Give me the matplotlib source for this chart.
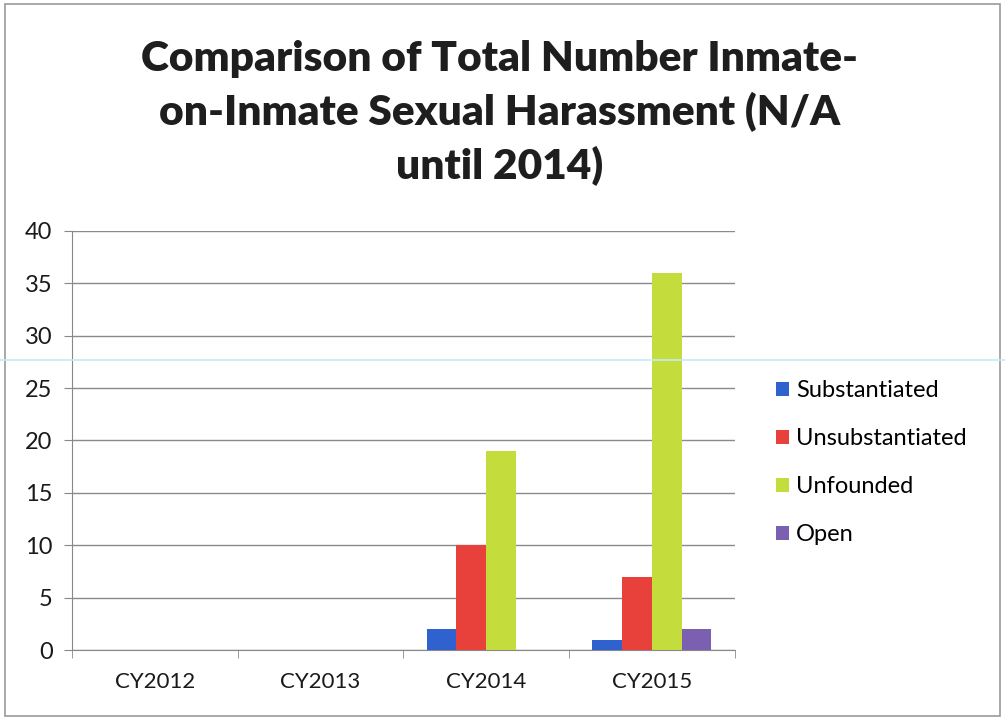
import matplotlib.pyplot as plt
import numpy as np
from matplotlib.patches import Rectangle
from matplotlib.lines import Line2D

years = ['CY2012', 'CY2013', 'CY2014', 'CY2015']
series = ['Substantiated', 'Unsubstantiated', 'Unfounded', 'Open']
substantiated = [0, 0, 2, 1]
unsubstantiated = [0, 0, 10, 7]
unfounded = [0, 0, 19, 36]
open_cases = [0, 0, 0, 2]
colors = ['#2f62cf', '#e8403a', '#c4dc3c', '#7b60b2']

plt.rcParams['font.family'] = ['Lato', 'DejaVu Sans']

fig = plt.figure(figsize=(10.05, 7.2), dpi=100)
ax = fig.add_axes([0.0716, 0.0972, 0.6594, 0.582])

x = np.arange(len(years))
w = 0.18
data = [substantiated, unsubstantiated, unfounded, open_cases]
for i, (name, vals) in enumerate(zip(series, data)):
	ax.bar(x + (i - 1.5) * w, vals, w, color=colors[i], label=name, zorder=3)

ax.set_xlim(-0.5, 3.5)
ax.set_ylim(0, 40)
ax.set_yticks(range(0, 41, 5))
ax.set_xticks(x)
ax.set_xticklabels(years)
ax.set_xticks(np.arange(-0.5, 4, 1), minor=True)
ax.tick_params(axis='x', which='major', length=0, labelsize=16, pad=16, colors='#1a1a1a')
ax.tick_params(axis='x', which='minor', length=6, color='#888888')
ax.tick_params(axis='y', length=6, color='#888888', labelsize=17, pad=8, colors='#1a1a1a')
ax.yaxis.grid(True, color='#8a8a8a', linewidth=1.0, zorder=0)
for s in ['top', 'right']:
	ax.spines[s].set_visible(False)
ax.spines['left'].set_color('#888888')
ax.spines['bottom'].set_color('#888888')

fig.text(0.497, 0.945,
	'Comparison of Total Number Inmate-\non-Inmate Sexual Harassment (N/A\nuntil 2014)',
	ha='center', va='top', fontsize=30.5, fontweight='heavy', color='#1e1e1e',
	linespacing=1.42)

ax.legend(loc='center left', bbox_to_anchor=(1.03, 0.447), frameon=False,
	fontsize=17, handlelength=0.55, handleheight=0.55, handletextpad=0.3,
	labelspacing=1.15)

# chart frame
fig.add_artist(Rectangle((0.005, 0.005), 0.99, 0.99, transform=fig.transFigure,
	fill=False, edgecolor='#9a9a9a', linewidth=1.2))
# scanner line
fig.add_artist(Line2D([0, 1], [0.5, 0.5], transform=fig.transFigure,
	color='#bfeef3', linewidth=1.2))

fig.savefig('out.png', dpi=100)
